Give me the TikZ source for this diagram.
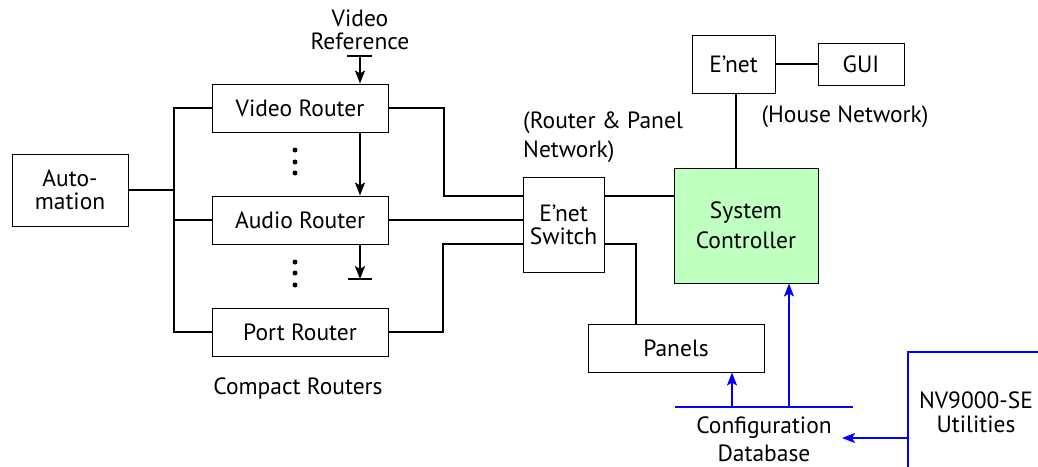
\documentclass[tikz,border=0pt]{standalone}
\usepackage{fontspec}
\setmainfont{PT Sans}
\usetikzlibrary{arrows.meta}
\definecolor{ctrlgreen}{HTML}{BFFFC0}
\definecolor{cfgblue}{HTML}{0000FF}
\begin{document}
\begin{tikzpicture}[x=1pt,y=-1pt,
  every node/.style={font=\fontsize{23.5}{24}\selectfont},
  box/.style={draw, line width=1pt, inner sep=0pt, align=center},
  wire/.style={line width=2pt},
  bluewire/.style={line width=2pt, draw=cfgblue},
  arr/.style={-{Stealth[length=13pt,width=10pt,inset=3pt]}},
  lbl/.style={inner sep=0pt, align=center},
  dot/.style={circle, fill, inner sep=0pt, minimum size=5pt}]
\useasboundingbox (0,0) rectangle (1038,466);
\clip (0,0) rectangle (1038,466);

% boxes
\node[box, minimum width=116pt, minimum height=72pt] (auto) at (70,190) {Auto-\\[-1pt]mation};
\node[box, minimum width=176pt, minimum height=48pt] (vr) at (300,108) {Video Router};
\node[box, minimum width=176pt, minimum height=48pt] (ar) at (300,220) {Audio Router};
\node[box, minimum width=176pt, minimum height=48pt] (pr) at (300,332) {Port Router};
\node[box, minimum width=81pt, minimum height=95pt] (sw) at (563.5,224.5) {E’net\\[-1pt]Switch};
\node[box, fill=ctrlgreen, minimum width=144pt, minimum height=115pt] (sc) at (746,225.5) {System\\[6pt]Controller};
\node[box, minimum width=83pt, minimum height=58pt] (en) at (733.5,64) {E’net};
\node[box, minimum width=86pt, minimum height=42pt] (gui) at (861,64) {GUI};
\node[box, minimum width=176pt, minimum height=48pt] (pan) at (676,348) {Panels};
\node[box, draw=cfgblue, line width=2pt, minimum width=136pt, minimum height=120pt] (nv) at (976,412) {NV9000-SE\\Utilities};

% labels
\node[lbl] (vref) at (360,30) {Video\\[-1pt]Reference};
\node[lbl] (compact) at (298,388) {Compact Routers};
\node[lbl, anchor=west, align=left] (rpnet) at (523,137) {(Router \& Panel\\[5pt]Network)};
\node[lbl] (house) at (845,117) {(House Network)};
\node[lbl] (cfg) at (764,439) {Configuration\\[4pt]Database};

% dots
\node[dot] (d1) at (295,150) {};
\node[dot] (d2) at (295,162) {};
\node[dot] (d3) at (295,173) {};
\node[dot] (d4) at (295,262) {};
\node[dot] (d5) at (295,273) {};
\node[dot] (d6) at (295,285) {};

% coordinates
\coordinate (busT) at (174,108);
\coordinate (j1) at (444,196);
\coordinate (j3) at (443,244);
\coordinate (refbar) at (360,56);
\coordinate (endbar) at (360,279);
\coordinate (cfgbar) at (764,407);

% automation bus
\draw[wire] (vr.west) -- (busT) |- (pr.west);
\draw[wire] (ar.west) -- (ar.west -| busT);
\draw[wire] (auto.east) -- (auto.east -| busT);

% routers to switch
\draw[wire] (vr.east) -| (j1) -- (j1 -| sw.west);
\draw[wire] (ar.east) -- (ar.east -| sw.west);
\draw[wire] (pr.east) -| (j3) -- (j3 -| sw.west);

% switch to controller and panels
\draw[wire] (sw.east |- j1) -- (sc.west |- j1);
\draw[wire] (sw.east |- j3) -| ([xshift=48pt]pan.north west);

% house network
\draw[wire] (en.south -| 736,0) -- (sc.north -| 736,0);
\draw[wire] (en.east) -- (gui.west);

% video reference chain
\draw[wire] ([xshift=-13pt]refbar) -- ([xshift=12pt]refbar);
\draw[wire, arr] (refbar) -- (vr.north -| refbar);
\draw[wire, arr] (vr.south -| refbar) -- (ar.north -| refbar);
\draw[wire, arr] (ar.south -| refbar) -- (endbar);
\draw[wire] ([xshift=-12pt]endbar) -- ([xshift=12pt]endbar);

% configuration database
\draw[bluewire] ([xshift=-89pt]cfgbar) -- ([xshift=89pt]cfgbar);
\draw[bluewire, arr, cfgblue] ([xshift=-32pt]cfgbar) -- (pan.south -| 732,0);
\draw[bluewire, arr, cfgblue] ([xshift=25pt]cfgbar) -- (sc.south -| 789,0);
\draw[bluewire, arr, cfgblue] (nv.west |- 0,438) -- (842,438);
\end{tikzpicture}
\end{document}
